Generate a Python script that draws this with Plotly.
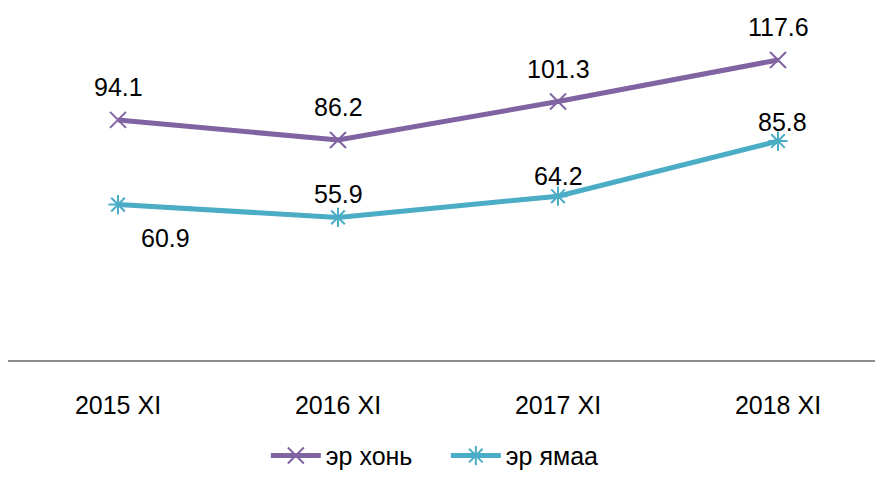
import plotly.graph_objects as go

categories = ["2015 XI", "2016 XI", "2017 XI", "2018 XI"]
er_khon = [94.1, 86.2, 101.3, 117.6]
er_yamaa = [60.9, 55.9, 64.2, 85.8]

purple = "#8064A2"
teal = "#4BACC6"
font = "Liberation Sans, Arial, sans-serif"

fig = go.Figure()
fig.add_trace(go.Scatter(
    x=categories, y=er_khon, name="эр хонь", mode="lines+markers",
    line=dict(color=purple, width=5),
    marker=dict(symbol="x-thin", size=16, line=dict(color=purple, width=2)),
))
fig.add_trace(go.Scatter(
    x=categories, y=er_yamaa, name="эр ямаа", mode="lines+markers",
    line=dict(color=teal, width=5),
    marker=dict(symbol="asterisk", size=16, line=dict(color=teal, width=2)),
))

# value labels
for c, v in zip(categories, er_khon):
    fig.add_annotation(x=c, y=v, text=f"{v:.1f}", showarrow=False,
                       yshift=33, font=dict(size=25, color="black", family=font))
yamaa_shift = [(47, -33), (0, 23), (0, 20), (4, 19)]
for c, v, (dx, dy) in zip(categories, er_yamaa, yamaa_shift):
    fig.add_annotation(x=c, y=v, text=f"{v:.1f}", showarrow=False,
                       xshift=dx, yshift=dy, font=dict(size=25, color="black", family=font))

fig.update_layout(
    width=875, height=479,
    margin=dict(l=8, r=0, t=0, b=119, autoexpand=False),
    paper_bgcolor="white", plot_bgcolor="white",
    font=dict(family=font, size=25, color="black"),
    showlegend=True,
    legend=dict(orientation="h", x=0.505, xanchor="center", y=-0.33, yanchor="bottom",
                font=dict(size=25), itemwidth=50, entrywidth=115),
)
fig.update_xaxes(
    type="category", range=[-0.5, -0.5 + 867 / 220], automargin=False,
    showgrid=False, zeroline=False, showline=True, linecolor="#8C8C8C", linewidth=2,
    ticks="", ticklabelstandoff=22, tickfont=dict(size=25),
)
fig.update_yaxes(range=[0, 141.1], visible=False, showgrid=False, zeroline=False)

fig.write_html("out.html")
